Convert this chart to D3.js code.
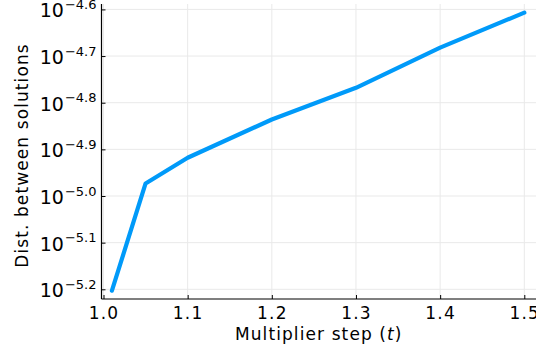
<!DOCTYPE html>
<html>
<head>
<meta charset="utf-8">
<script src="https://cdn.jsdelivr.net/npm/d3@7"></script>
<style>
  html, body { margin: 0; padding: 0; background: #fff; }
  svg { display: block; }
  text { font-family: "DejaVu Sans", sans-serif; fill: #000; }
</style>
</head>
<body>
<svg id="chart" width="536" height="352"></svg>
<script>
// Data
const stepValues = [1.01, 1.05, 1.1, 1.2, 1.3, 1.4, 1.5];
const distValues = [6.266e-6, 1.064e-5, 1.208e-5, 1.459e-5, 1.706e-5, 2.080e-5, 2.472e-5];
const xTicks = [1.0, 1.1, 1.2, 1.3, 1.4, 1.5];
const xTickLabels = ["1.0", "1.1", "1.2", "1.3", "1.4", "1.5"];
const yTickExponents = [-5.2, -5.1, -5.0, -4.9, -4.8, -4.7, -4.6];
const yTickLabels = ["\u22125.2", "\u22125.1", "\u22125.0", "\u22124.9", "\u22124.8", "\u22124.7", "\u22124.6"];
const xLabel = "Multiplier step (";
const xLabelVar = "t";
const yLabel = "Dist. between solutions";

const svg = d3.select("#chart");
const pLeft = 101.5, pRight = 536, pTop = 4, pBottom = 299;

const x = d3.scaleLinear().domain([0.99762, 1.5139]).range([pLeft, pRight]);
const y = d3.scaleLog().domain([Math.pow(10, -5.2208), Math.pow(10, -4.5884)]).range([pBottom, pTop]);

// Grid
const g = svg.append("g");
g.selectAll("line.vg").data(xTicks).join("line")
  .attr("x1", d => x(d)).attr("x2", d => x(d))
  .attr("y1", pTop).attr("y2", pBottom)
  .attr("stroke", "#e9e9e9").attr("stroke-width", 1);
g.selectAll("line.hg").data(yTickExponents).join("line")
  .attr("x1", pLeft).attr("x2", pRight)
  .attr("y1", d => y(Math.pow(10, d))).attr("y2", d => y(Math.pow(10, d)))
  .attr("stroke", "#e9e9e9").attr("stroke-width", 1);

// Line
const line = d3.line().x((d, i) => x(stepValues[i])).y(d => y(d));
svg.append("path").datum(distValues)
  .attr("d", line)
  .attr("fill", "none")
  .attr("stroke", "#009af9")
  .attr("stroke-width", 4.2)
  .attr("stroke-linejoin", "round")
  .attr("stroke-linecap", "round");

// Axes (ticks inward)
const xAxis = d3.axisBottom(x).tickValues(xTicks).tickSize(-4).tickPadding(8)
  .tickFormat((d, i) => xTickLabels[i]);
const gx = svg.append("g").attr("transform", `translate(0,${pBottom})`).call(xAxis);
gx.select(".domain").attr("stroke", "#000").attr("stroke-width", 1.2)
  .attr("d", `M${pLeft},0H${pRight}`);
gx.selectAll(".tick text").attr("font-size", 17).attr("letter-spacing", "1.2px")
  .attr("font-family", "DejaVu Sans").attr("fill", "#000");

const yAxis = d3.axisLeft(y).tickValues(yTickExponents.map(e => Math.pow(10, e)))
  .tickSize(-4).tickFormat(() => "");
const gy = svg.append("g").attr("transform", `translate(${pLeft},0)`).call(yAxis);
gy.select(".domain").attr("stroke", "#000").attr("stroke-width", 1.2)
  .attr("d", `M0,${pTop}V${pBottom}`);
gy.selectAll(".tick").each(function(d, i) {
  const t = d3.select(this).append("text")
    .attr("x", -5).attr("y", 7.5)
    .attr("text-anchor", "end")
    .attr("fill", "#000");
  t.append("tspan").attr("font-size", 19).text("10");
  t.append("tspan").attr("font-size", 13).attr("dx", 1).attr("dy", -8.5).text(yTickLabels[i]);
});

// Axis labels
const xl = svg.append("text")
  .attr("x", (pLeft + pRight) / 2).attr("y", 340)
  .attr("text-anchor", "middle")
  .attr("font-size", 17).attr("letter-spacing", "1.1px");
xl.append("tspan").text(xLabel);
xl.append("tspan").attr("font-style", "italic").text(xLabelVar);
xl.append("tspan").text(")");

svg.append("text")
  .attr("transform", `translate(28,${(pTop + pBottom) / 2 + 4}) rotate(-90)`)
  .attr("text-anchor", "middle")
  .attr("font-size", 17).attr("letter-spacing", "1.1px")
  .text(yLabel);
</script>
</body>
</html>
